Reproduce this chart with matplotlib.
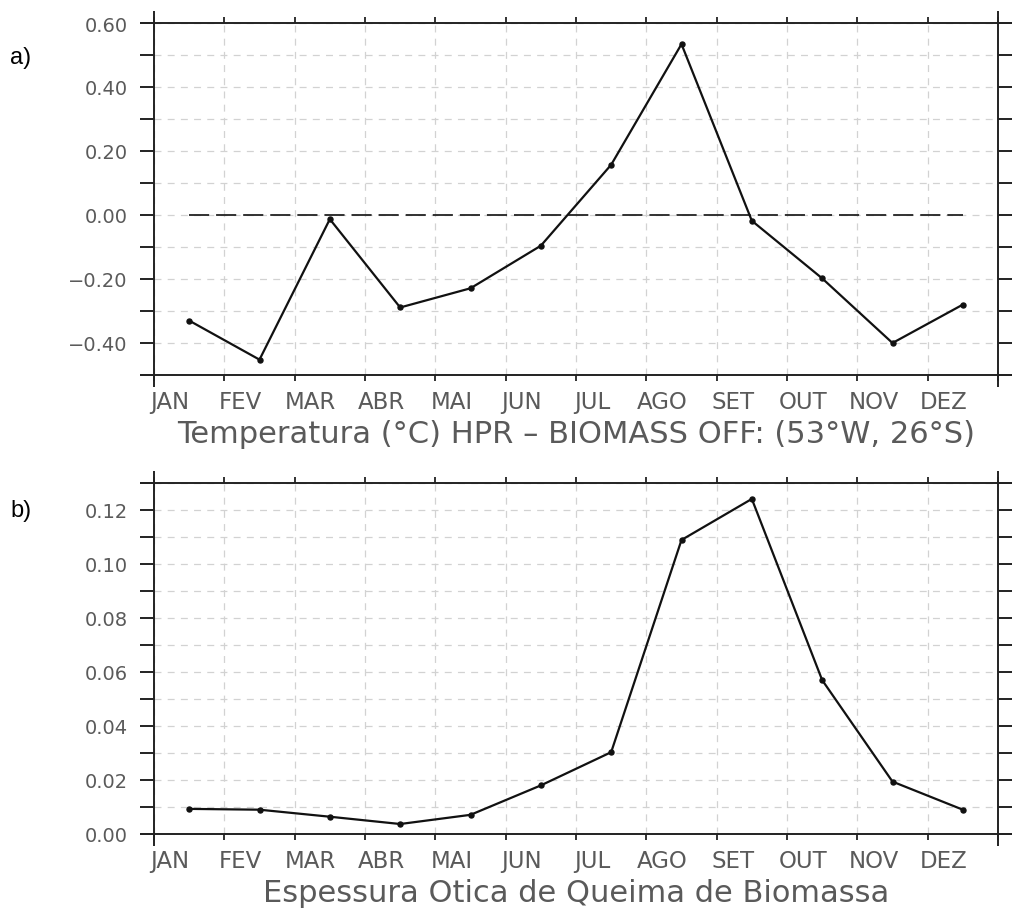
import matplotlib
matplotlib.use("Agg")
import matplotlib.pyplot as plt
import numpy as np

plt.rcParams['lines.scale_dashes'] = False
plt.rcParams['font.family'] = ['DejaVu Sans']

months = ["JAN", "FEV", "MAR", "ABR", "MAI", "JUN",
          "JUL", "AGO", "SET", "OUT", "NOV", "DEZ"]

# Temperature difference (°C), HPR - BIOMASS OFF at 53°W, 26°S
temp_diff = [-0.330, -0.452, -0.013, -0.289, -0.229, -0.096,
             0.157, 0.534, -0.018, -0.198, -0.400, -0.280]

# Biomass burning aerosol optical depth
aod = [0.0093, 0.0090, 0.0064, 0.0037, 0.0071, 0.0180,
       0.0303, 0.1089, 0.1241, 0.0570, 0.0194, 0.0090]

top_title = "Temperatura (°C) HPR – BIOMASS OFF: (53°W, 26°S)"
bottom_title = "Espessura Otica de Queima de Biomassa"

x = np.arange(len(months)) + 0.5

W, H = 1016, 912
fig = plt.figure(figsize=(W / 100, H / 100), dpi=100)

ax_left = 154 / W
ax_w = (998 - 154) / W
ax1 = fig.add_axes([ax_left, 1 - 376 / H, ax_w, (376 - 24) / H])
ax2 = fig.add_axes([ax_left, 1 - 835 / H, ax_w, (835 - 484) / H])

label_col = "#5a5a5a"
grid_col = "#d2d2d2"


def style_axes(ax, ylim, yticks, minor, xlabel):
    ax.set_xlim(0, 12)
    ax.set_ylim(*ylim)
    for s in ax.spines.values():
        s.set_visible(False)
    # frame lines that run slightly past the corners
    ex, ey = 14 / 844, 12 / 352
    kw = dict(transform=ax.transAxes, clip_on=False, color="#222222",
              lw=1.4, solid_capstyle="butt", zorder=5)
    ax.plot([0, 0], [-ey, 1 + ey], **kw)
    ax.plot([1, 1], [-ey, 1 + ey], **kw)
    ax.plot([-ex, 1 + ex], [0, 0], **kw)
    ax.plot([-ex, 1 + ex], [1, 1], **kw)

    ax.set_xticks(np.arange(0, 13))
    ax.set_xticklabels([])
    ax.set_xticks(np.arange(12) + 0.23, minor=True)
    ax.set_xticklabels(months, minor=True)
    ax.tick_params(axis="x", which="major", direction="out", length=4.5,
                   width=1.3, top=True, bottom=True, color="#222222")
    ax.tick_params(axis="x", which="minor", length=0, pad=11,
                   labelsize=16.5, labelcolor=label_col)

    ax.set_yticks(yticks)
    ax.set_yticklabels(["{:.2f}".format(v).replace("-", "−") for v in yticks])
    ym = np.round(np.arange(ylim[0], ylim[1] + 1e-9, minor), 6)
    ax.set_yticks(ym, minor=True)
    ax.tick_params(axis="y", which="both", direction="out", length=10,
                   width=1.4, left=True, right=True, color="#222222")
    ax.tick_params(axis="y", which="major", pad=9, labelsize=14,
                   labelcolor=label_col)

    ax.grid(axis="y", which="both", color=grid_col, lw=0.9,
            linestyle=(0, (5, 4.5)))
    ax.grid(axis="x", which="major", color=grid_col, lw=0.9,
            linestyle=(0, (5, 4.5)))
    ax.set_axisbelow(True)
    ax.set_xlabel(xlabel, fontsize=22, color=label_col, labelpad=4)


style_axes(ax1, (-0.5, 0.6), [-0.4, -0.2, 0.0, 0.2, 0.4, 0.6], 0.1,
           top_title)
style_axes(ax2, (0.0, 0.13), [0.0, 0.02, 0.04, 0.06, 0.08, 0.10, 0.12],
           0.01, bottom_title)

ax1.hlines(0, x[0], x[-1], colors="#222222", lw=1.3,
           linestyles=[(0, (14.5, 5))], zorder=3)

for ax, vals in ((ax1, temp_diff), (ax2, aod)):
    ax.plot(x, vals, color="#111111", lw=1.6, marker="o", markersize=3.6,
            zorder=4)

fig.text(10 / W, 1 - 58 / H, "a)", fontsize=17, family="Liberation Sans",
         va="center", ha="left", color="black")
fig.text(10 / W, 1 - 511 / H, "b)", fontsize=17, family="Liberation Sans",
         va="center", ha="left", color="black")

fig.savefig("out.png", dpi=100)
